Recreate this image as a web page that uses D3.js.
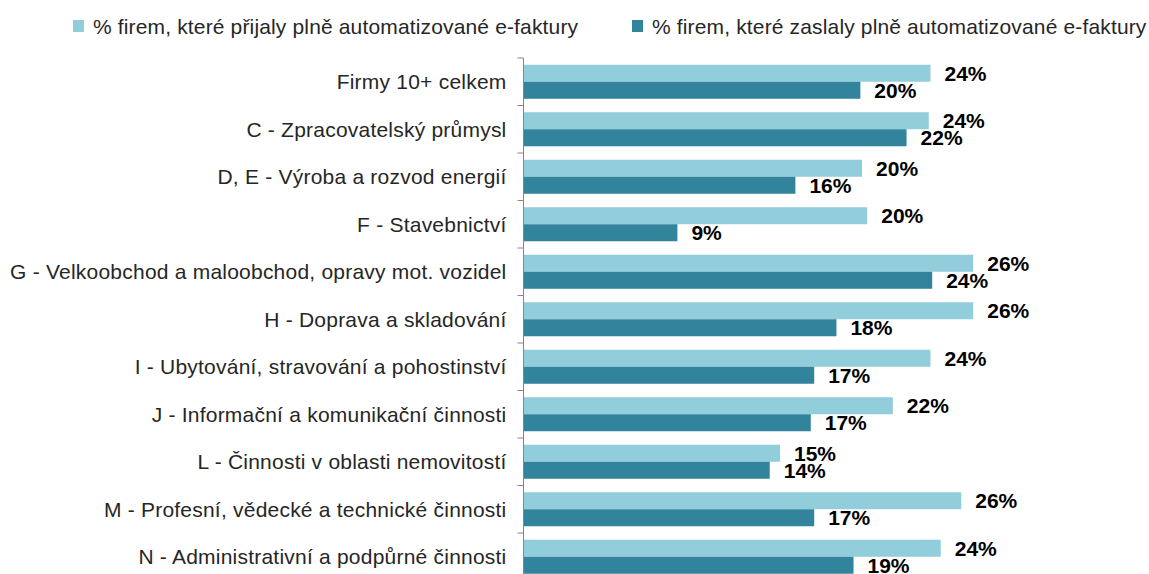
<!DOCTYPE html>
<html lang="cs">
<head>
  <meta charset="UTF-8" />
  <title>Automatizované e-faktury</title>
  <style>
    body { margin: 0; padding: 0; background: #fff; font-family: "Liberation Sans", Arial, sans-serif; }
    svg { display: block; }
  </style>
  <script src="https://d3js.org/d3.v7.min.js"></script>
</head>
<body>
  <svg width="1149" height="574"></svg>
  <script>
    const categories = [
      "Firmy 10+ celkem",
      "C - Zpracovatelský průmysl",
      "D, E - Výroba a rozvod energií",
      "F - Stavebnictví",
      "G - Velkoobchod a maloobchod, opravy mot. vozidel",
      "H - Doprava a skladování",
      "I - Ubytování, stravování a pohostinství",
      "J - Informační a komunikační činnosti",
      "L - Činnosti v oblasti nemovitostí",
      "M - Profesní, vědecké a technické činnosti",
      "N - Administrativní a podpůrné činnosti"
    ];
    const seriesNames = [
      "% firem, které přijaly plně automatizované e-faktury",
      "% firem, které zaslaly plně automatizované e-faktury"
    ];
    const received = [23.8, 23.7, 19.8, 20.1, 26.3, 26.3, 23.8, 21.6, 15.0, 25.6, 24.4];
    const sent = [19.7, 22.4, 15.9, 9.0, 23.9, 18.3, 17.0, 16.8, 14.4, 17.0, 19.3];
    const colors = ["#92cddc", "#31849b"];

    const svg = d3.select("svg");
    const axisX = 523.5;

    const x = d3.scaleLinear().domain([0, 30]).range([axisX, axisX + 513]);
    const y = d3.scaleBand().domain(categories).range([58, 580.5])
      .paddingInner(0.284).paddingOuter(0.142);
    const sub = d3.scaleBand().domain([0, 1]).range([0, y.bandwidth()]);

    const rows = categories.map((c, i) => ({ cat: c, vals: [received[i], sent[i]] }));

    // bars
    const g = svg.append("g");
    const row = g.selectAll("g.row").data(rows).join("g")
      .attr("class", "row")
      .attr("transform", d => `translate(0,${y(d.cat)})`);

    row.selectAll("rect").data(d => d.vals).join("rect")
      .attr("x", x(0))
      .attr("y", (d, i) => sub(i))
      .attr("width", d => x(d) - x(0))
      .attr("height", sub.bandwidth())
      .attr("fill", (d, i) => colors[i]);

    row.selectAll("text").data(d => d.vals).join("text")
      .attr("x", d => x(d) + 14)
      .attr("y", (d, i) => sub(i) + sub.bandwidth() / 2)
      .attr("dy", "0.36em")
      .attr("font-size", 21)
      .attr("font-weight", "bold")
      .attr("fill", "#000")
      .text(d => Math.round(d) + "%");

    // axis line and ticks between categories
    const [y0, y1] = y.range();
    svg.append("line")
      .attr("x1", axisX).attr("x2", axisX)
      .attr("y1", y0).attr("y2", y1)
      .attr("stroke", "#868686").attr("stroke-width", 1);
    svg.append("g").selectAll("line")
      .data(d3.range(categories.length + 1))
      .join("line")
      .attr("x1", axisX - 6).attr("x2", axisX)
      .attr("y1", i => y0 + i * y.step())
      .attr("y2", i => y0 + i * y.step())
      .attr("stroke", "#868686").attr("stroke-width", 1);

    // category labels
    svg.append("g").selectAll("text").data(categories).join("text")
      .attr("x", axisX - 17)
      .attr("y", d => y(d) + y.bandwidth() / 2)
      .attr("dy", "0.36em")
      .attr("text-anchor", "end")
      .attr("font-size", 21)
      .attr("letter-spacing", "0.22px")
      .attr("fill", "#262626")
      .text(d => d);

    // legend
    const legendX = [73, 632];
    const legend = svg.append("g").selectAll("g").data(seriesNames).join("g")
      .attr("transform", (d, i) => `translate(${legendX[i]},26)`);
    legend.append("rect")
      .attr("x", 0).attr("y", -6)
      .attr("width", 11).attr("height", 12)
      .attr("fill", (d, i) => colors[i]);
    legend.append("text")
      .attr("x", 20)
      .attr("dy", "0.36em")
      .attr("font-size", 21)
      .attr("letter-spacing", "0.15px")
      .attr("fill", "#262626")
      .text(d => d);
  </script>
</body>
</html>
